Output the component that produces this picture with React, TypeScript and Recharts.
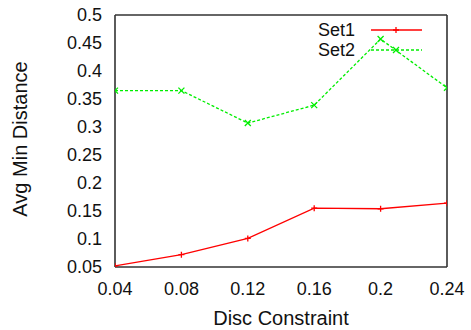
import React from 'react';
import { LineChart, Line, XAxis, YAxis, Legend, Label } from 'recharts';

// Disc constraint values on the horizontal axis
const discConstraint = [0.04, 0.08, 0.12, 0.16, 0.2, 0.24];
// Average minimum distance for each set
const set1 = [0.052, 0.072, 0.101, 0.155, 0.154, 0.164];
const set2 = [0.365, 0.365, 0.307, 0.339, 0.457, 0.37];

const xTicks = [0.04, 0.08, 0.12, 0.16, 0.2, 0.24];
const yTicks = [0.05, 0.1, 0.15, 0.2, 0.25, 0.3, 0.35, 0.4, 0.45, 0.5];

const data = discConstraint.map((x, i) => ({ x, set1: set1[i], set2: set2[i] }));

const FONT = '"Liberation Sans", Arial, Helvetica, sans-serif';
const BORDER = '#333333';
const RED = '#ff0000';
const GREEN = '#00ee00';

const PlusDot = (props: any) => {
  const { cx, cy } = props;
  if (cx == null || cy == null) return null;
  return (
    <path
      d={`M${cx - 3},${cy}h6M${cx},${cy - 3}v6`}
      stroke={RED}
      strokeWidth={1.3}
      fill="none"
    />
  );
};

const CrossDot = (props: any) => {
  const { cx, cy } = props;
  if (cx == null || cy == null) return null;
  return (
    <path
      d={`M${cx - 3},${cy - 3}l6,6M${cx - 3},${cy + 3}l6,-6`}
      stroke={GREEN}
      strokeWidth={1.3}
      fill="none"
    />
  );
};

const KeyBox = () => (
  <svg width={171} height={50} style={{ display: 'block', overflow: 'visible' }}>
    <text x={55} y={26} textAnchor="end" fontFamily={FONT} fontSize={18} fill="#111">
      Set1
    </text>
    <line x1={71} y1={20} x2={122} y2={20} stroke={RED} strokeWidth={1.3} />
    <PlusDot cx={96} cy={20} />
    <text x={55} y={46} textAnchor="end" fontFamily={FONT} fontSize={18} fill="#111">
      Set2
    </text>
    <line x1={71} y1={40} x2={122} y2={40} stroke={GREEN} strokeWidth={1.3} strokeDasharray="3 2" />
    <CrossDot cx={96} cy={40} />
  </svg>
);

const YTitle = (props: any) => {
  const vb = props.viewBox || { x: 0, y: 0, height: 0 };
  const cx = vb.x + 27;
  const cy = vb.y + vb.height / 2 - 2;
  return (
    <text
      transform={`translate(${cx},${cy}) rotate(-90)`}
      textAnchor="middle"
      fontFamily={FONT}
      fontSize={20}
      fill="#111"
    >
      Avg Min Distance
    </text>
  );
};

const XTitle = (props: any) => {
  const vb = props.viewBox || { x: 0, y: 0, width: 0 };
  return (
    <text
      x={vb.x + vb.width / 2}
      y={vb.y + 58}
      textAnchor="middle"
      fontFamily={FONT}
      fontSize={20}
      fill="#111"
    >
      Disc Constraint
    </text>
  );
};

const borderLine = { stroke: BORDER, strokeWidth: 1.6 };
const tickMark = { stroke: BORDER, strokeWidth: 1.2 };
const tickText = { fill: '#111', fontSize: 18, fontFamily: FONT };

export default function App() {
  return (
    <div style={{ position: 'absolute', left: 0, top: 0, background: '#fff' }}>
      <LineChart
        width={471}
        height={330}
        data={data}
        margin={{ top: 15, right: 24, bottom: 0, left: 0 }}
        style={{ fontFamily: FONT }}
      >
        {/* labelled axes */}
        <XAxis
          dataKey="x"
          type="number"
          domain={[0.04, 0.24]}
          allowDataOverflow
          ticks={xTicks}
          height={63}
          tickLine={false}
          tickSize={0}
          tickMargin={15}
          axisLine={borderLine}
          tick={tickText}
        >
          <Label content={<XTitle />} />
        </XAxis>
        <YAxis
          type="number"
          domain={[0.05, 0.5]}
          allowDataOverflow
          ticks={yTicks}
          width={115}
          tickLine={false}
          tickSize={0}
          tickMargin={13}
          axisLine={borderLine}
          tick={tickText}
        >
          <Label content={<YTitle />} />
        </YAxis>

        {/* inward tick marks and the rest of the frame */}
        <XAxis
          xAxisId="bottomTicks"
          dataKey="x"
          type="number"
          domain={[0.04, 0.24]}
          allowDataOverflow
          ticks={xTicks}
          mirror
          tick={false}
          tickSize={4}
          tickLine={tickMark}
          axisLine={false}
        />
        <XAxis
          xAxisId="top"
          orientation="top"
          dataKey="x"
          type="number"
          domain={[0.04, 0.24]}
          allowDataOverflow
          ticks={xTicks}
          mirror
          tick={false}
          tickSize={4}
          tickLine={tickMark}
          axisLine={borderLine}
        />
        <YAxis
          yAxisId="leftTicks"
          type="number"
          domain={[0.05, 0.5]}
          allowDataOverflow
          ticks={yTicks}
          mirror
          tick={false}
          tickSize={4}
          tickLine={tickMark}
          axisLine={false}
        />
        <YAxis
          yAxisId="right"
          orientation="right"
          type="number"
          domain={[0.05, 0.5]}
          allowDataOverflow
          ticks={yTicks}
          mirror
          tick={false}
          tickSize={4}
          tickLine={tickMark}
          axisLine={borderLine}
        />

        <Legend
          layout="vertical"
          align="center"
          verticalAlign="middle"
          wrapperStyle={{ left: 300, top: 10, width: 171, height: 50 }}
          content={() => <KeyBox />}
        />

        <Line
          dataKey="set1"
          name="Set1"
          stroke={RED}
          strokeWidth={1.3}
          dot={<PlusDot />}
          activeDot={false}
          isAnimationActive={false}
        />
        <Line
          dataKey="set2"
          name="Set2"
          stroke={GREEN}
          strokeWidth={1.3}
          strokeDasharray="3 2"
          dot={<CrossDot />}
          activeDot={false}
          isAnimationActive={false}
        />
      </LineChart>
    </div>
  );
}
